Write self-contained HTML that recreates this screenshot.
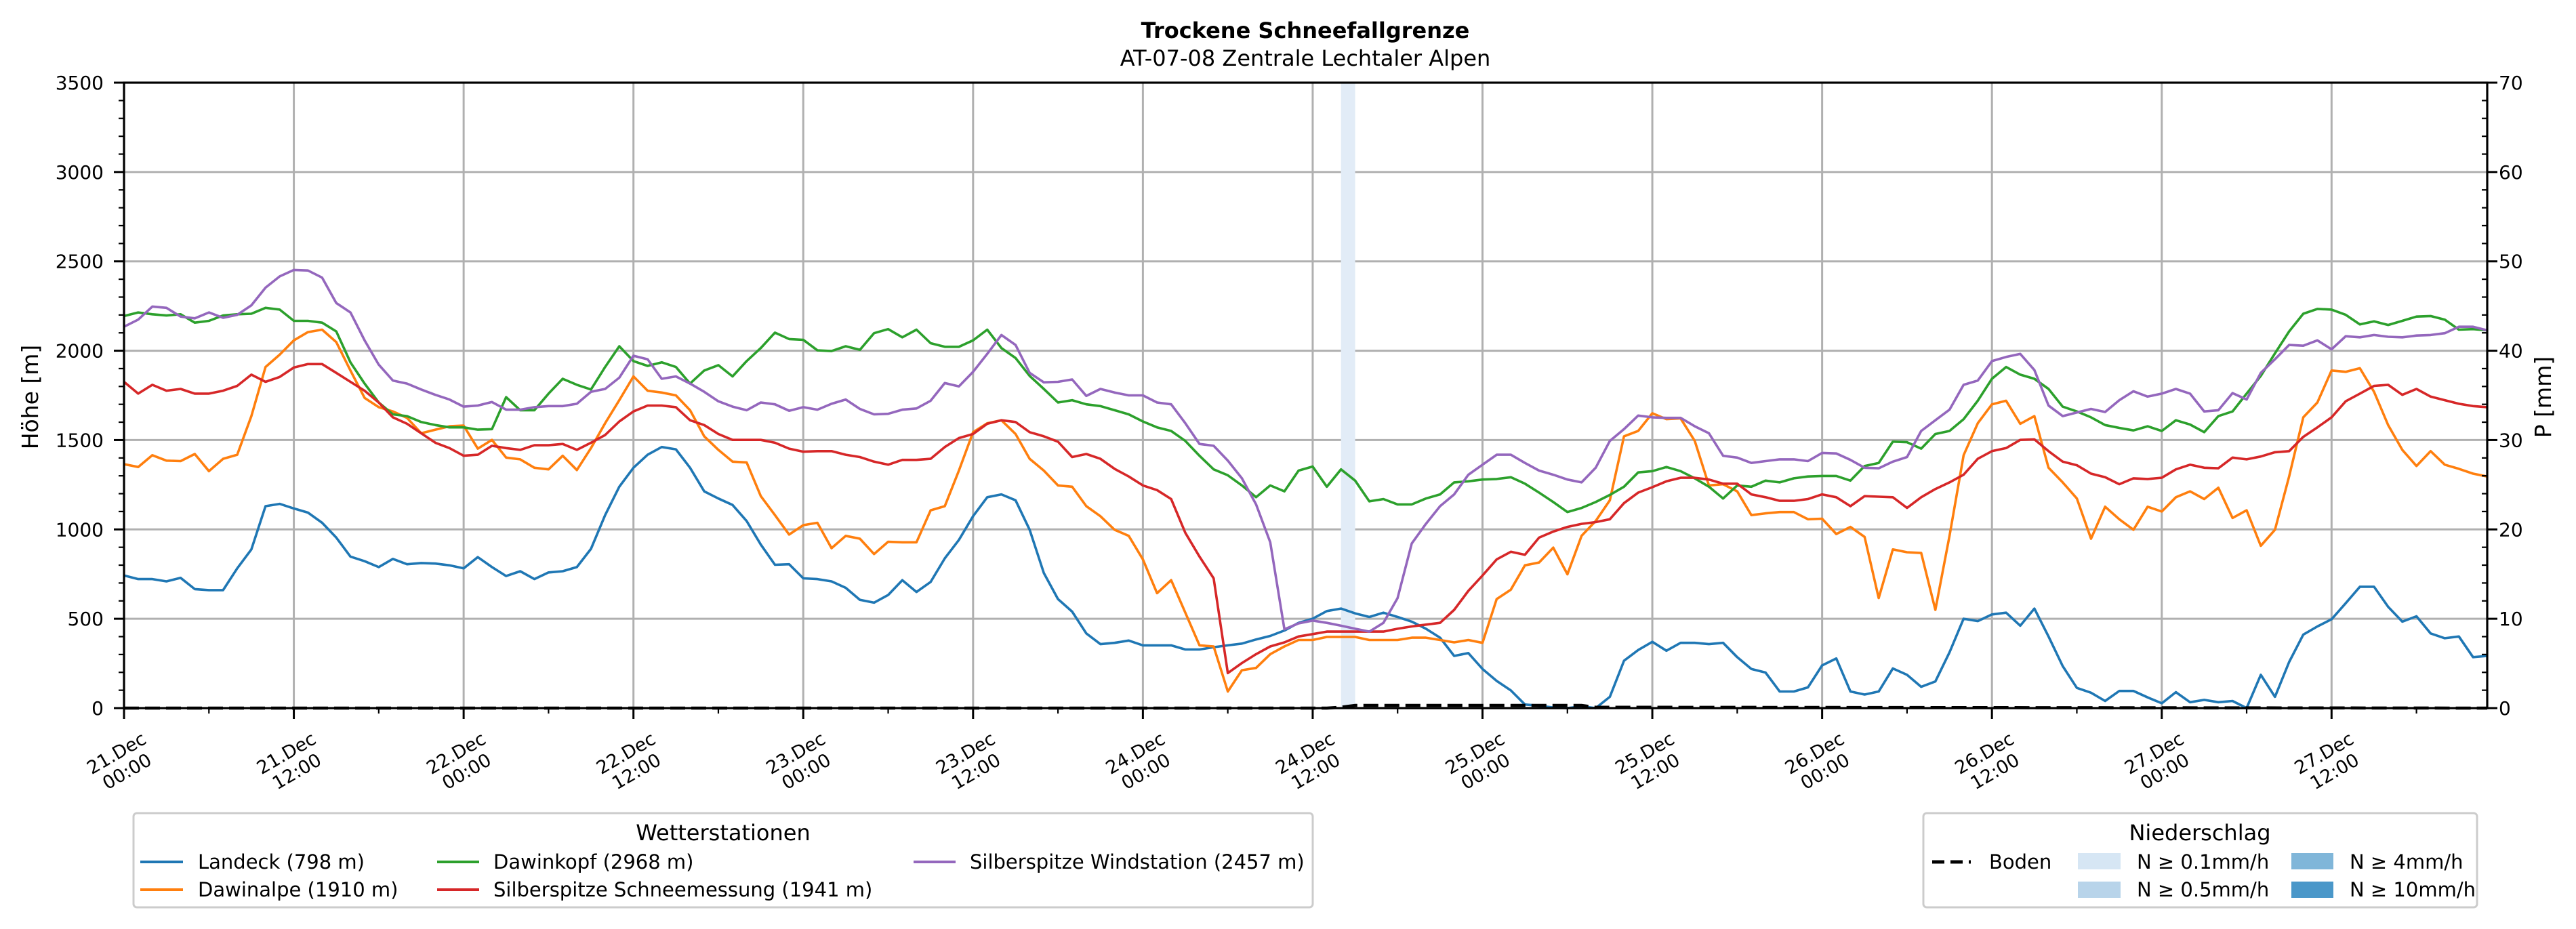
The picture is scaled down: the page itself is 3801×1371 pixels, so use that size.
<!DOCTYPE html>
<html><head><meta charset="utf-8"><style>
html,body{margin:0;padding:0;background:#fff;}
svg{display:block;font-family:"DejaVu Sans","Liberation Sans",sans-serif;}
</style></head><body>
<svg id="chart" xmlns="http://www.w3.org/2000/svg" width="3801" height="1371" viewBox="0 0 3801 1371">
<rect x="0" y="0" width="3801" height="1371" fill="#fff"/>
<text x="1926" y="56" font-size="32" font-weight="bold" text-anchor="middle">Trockene Schneefallgrenze</text>
<text x="1926" y="97" font-size="32" text-anchor="middle">AT-07-08 Zentrale Lechtaler Alpen</text>
<g id="grid"></g>
<g id="band"></g>
<g id="series"></g>
<g id="axes"></g>
<text transform="translate(56,586) rotate(-90)" font-size="33" text-anchor="middle">Höhe [m]</text>
<text transform="translate(3764,586) rotate(-90)" font-size="33" text-anchor="middle">P [mm]</text>

<g>
<rect x="197" y="1200" width="1740" height="139" rx="5" fill="#fff" stroke="#cccccc" stroke-width="3"/>
<text x="1067" y="1240" font-size="32" text-anchor="middle">Wetterstationen</text>
<g><line x1="207" y1="1272" x2="270" y2="1272" stroke="#1f77b4" stroke-width="4"/><text x="292" y="1282" font-size="29">Landeck (798 m)</text></g>
<g><line x1="207" y1="1313" x2="270" y2="1313" stroke="#ff7f0e" stroke-width="4"/><text x="292" y="1323" font-size="29">Dawinalpe (1910 m)</text></g>
<g><line x1="645" y1="1272" x2="707" y2="1272" stroke="#2ca02c" stroke-width="4"/><text x="728" y="1282" font-size="29">Dawinkopf (2968 m)</text></g>
<g><line x1="645" y1="1313" x2="707" y2="1313" stroke="#d62728" stroke-width="4"/><text x="728" y="1323" font-size="29">Silberspitze Schneemessung (1941 m)</text></g>
<g><line x1="1348" y1="1272" x2="1410" y2="1272" stroke="#9467bd" stroke-width="4"/><text x="1431" y="1282" font-size="29">Silberspitze Windstation (2457 m)</text></g>
</g>

<g>
<rect x="2838" y="1200" width="817" height="139" rx="5" fill="#fff" stroke="#cccccc" stroke-width="3"/>
<text x="3246" y="1240" font-size="32" text-anchor="middle">Niederschlag</text>
<g><line x1="2851" y1="1272" x2="2908" y2="1272" stroke="#000" stroke-width="5" stroke-dasharray="18,9"/><text x="2935" y="1282" font-size="29">Boden</text></g>
<g><rect x="3066" y="1259" width="63" height="24" fill="#d6e6f4"/><text x="3153" y="1282" font-size="29">N ≥ 0.1mm/h</text></g>
<g><rect x="3066" y="1301" width="63" height="24" fill="#b8d4ea"/><text x="3153" y="1323" font-size="29">N ≥ 0.5mm/h</text></g>
<g><rect x="3381" y="1259" width="62" height="24" fill="#80b6d9"/><text x="3467" y="1282" font-size="29">N ≥ 4mm/h</text></g>
<g><rect x="3381" y="1301" width="62" height="24" fill="#4a97c9"/><text x="3467" y="1323" font-size="29">N ≥ 10mm/h</text></g>
</g>
</svg>
<script>
const xTickLabels = [["21.Dec","00:00"],["21.Dec","12:00"],["22.Dec","00:00"],["22.Dec","12:00"],["23.Dec","00:00"],["23.Dec","12:00"],["24.Dec","00:00"],["24.Dec","12:00"],["25.Dec","00:00"],["25.Dec","12:00"],["26.Dec","00:00"],["26.Dec","12:00"],["27.Dec","00:00"],["27.Dec","12:00"]];
const yTicks = [0,500,1000,1500,2000,2500,3000,3500];
const y2Ticks = [0,10,20,30,40,50,60,70];
const seriesNames = ["landeck","dawinalpe","dawinkopf","silberspitze-schnee","silberspitze-wind"];
const seriesColors = ["#1f77b4","#ff7f0e","#2ca02c","#d62728","#9467bd"];
const landeck = [742,722,722,709,729,666,660,660,782,888,1130,1143,1117,1094,1037,954,848,822,789,835,805,812,809,799,782,845,789,739,766,722,759,766,789,891,1080,1239,1345,1418,1461,1448,1345,1213,1173,1137,1047,915,802,805,726,722,709,673,606,590,
633,716,650,706,838,941,1074,1180,1196,1163,998,756,610,540,418,358,365,378,351,351,351,328,328,341,351,361,384,404,434,477,500,543,557,530,510,534,510,484,444,394,292,308,219,152,99,20,13,3,0,10,0,63,265,325,371,321,365,365,358,365,
285,219,199,93,93,116,239,278,93,76,93,222,186,119,149,312,500,487,524,534,461,557,401,235,113,86,40,96,96,60,27,89,33,46,33,40,0,186,63,258,411,457,497,587,679,679,567,484,514,418,391,401,285,292];
const dawinalpe = [1365,1349,1415,1385,1382,1422,1326,1395,1418,1634,1909,1978,2058,2104,2118,2048,1889,1736,1684,1660,1624,1538,1558,1577,1581,1452,1501,1402,1392,1345,1336,1412,1332,1455,1594,1723,1856,1776,1766,1750,1667,1521,1445,1379,1375,1186,1080,971,1024,1037,895,964,948,862,
931,928,928,1107,1130,1329,1544,1594,1611,1534,1395,1329,1246,1239,1130,1074,998,964,832,643,716,534,351,345,93,212,225,302,345,381,381,398,398,398,381,381,381,394,394,381,368,381,365,610,663,799,815,898,749,964,1047,1163,1521,1551,1650,1617,1621,1495,1246,1253,
1213,1080,1090,1097,1097,1057,1060,974,1014,958,616,888,872,868,550,964,1415,1594,1700,1720,1591,1634,1345,1263,1173,948,1127,1057,998,1127,1100,1180,1213,1170,1233,1064,1107,908,998,1296,1627,1710,1889,1882,1902,1770,1584,1445,1355,1438,1362,1339,1312,1296];
const dawinkopf = [2194,2214,2204,2197,2204,2157,2167,2197,2204,2207,2240,2230,2167,2167,2157,2108,1935,1816,1710,1644,1634,1601,1584,1571,1571,1558,1561,1740,1667,1667,1760,1843,1809,1783,1909,2025,1942,1915,1935,1909,1816,1889,1919,1856,1942,2015,2101,2065,2061,2002,1998,2025,2005,2098,
2121,2075,2118,2042,2022,2022,2058,2118,2015,1959,1859,1786,1710,1723,1700,1690,1667,1644,1604,1571,1551,1495,1412,1336,1303,1246,1180,1246,1213,1329,1352,1239,1336,1273,1157,1170,1140,1140,1173,1196,1263,1269,1279,1282,1292,1256,1206,1153,1097,1120,1153,1193,1239,1319,1326,1349,1326,1286,1239,1173,
1246,1239,1273,1263,1286,1296,1299,1299,1273,1355,1372,1491,1488,1452,1534,1551,1617,1720,1843,1909,1866,1843,1786,1687,1660,1627,1584,1568,1554,1577,1551,1611,1587,1544,1634,1660,1760,1859,1985,2108,2207,2234,2230,2201,2147,2164,2144,2167,2191,2194,2174,2118,2121,2114];
const silberspitzeSchnee = [1826,1760,1809,1776,1786,1760,1760,1776,1803,1866,1826,1853,1906,1925,1925,1876,1826,1776,1710,1627,1591,1538,1485,1455,1412,1418,1468,1455,1445,1471,1471,1478,1445,1485,1528,1604,1660,1693,1693,1684,1611,1584,1534,1501,1501,1501,1485,1452,1435,1438,1438,1418,1405,1379,
1362,1389,1389,1395,1461,1511,1534,1591,1611,1601,1544,1521,1491,1405,1422,1395,1339,1296,1246,1220,1170,981,848,726,196,252,302,345,368,401,414,428,428,428,428,428,444,457,467,477,550,656,742,832,875,858,954,988,1014,1031,1041,1057,1147,1206,1236,1269,1289,1289,1279,1256,
1256,1196,1180,1160,1160,1170,1196,1180,1130,1186,1183,1180,1120,1180,1226,1263,1306,1395,1438,1455,1501,1504,1438,1379,1359,1312,1292,1253,1286,1282,1289,1336,1362,1345,1342,1402,1392,1408,1432,1438,1518,1571,1627,1717,1760,1803,1809,1753,1786,1743,1723,1703,1690,1684];
const silberspitzeWind = [2134,2174,2247,2240,2191,2181,2214,2184,2201,2254,2353,2416,2452,2449,2409,2267,2214,2058,1922,1833,1816,1783,1753,1727,1687,1693,1713,1670,1670,1684,1690,1690,1703,1770,1786,1849,1972,1952,1843,1856,1816,1770,1717,1687,1667,1710,1700,1664,1684,1670,1703,1727,1674,1644,
1647,1670,1677,1720,1819,1800,1882,1982,2088,2032,1876,1823,1826,1839,1747,1786,1766,1750,1750,1710,1700,1594,1478,1468,1385,1286,1140,928,441,474,490,477,461,444,428,477,616,921,1031,1130,1196,1306,1362,1418,1418,1372,1329,1306,1279,1263,1345,1495,1561,1637,1627,1624,1624,1577,1538,1412,
1402,1372,1382,1392,1392,1382,1428,1425,1389,1345,1342,1379,1405,1551,1611,1670,1809,1833,1942,1965,1982,1892,1693,1634,1654,1674,1657,1723,1773,1743,1760,1786,1760,1660,1667,1763,1727,1876,1952,2032,2028,2058,2008,2081,2075,2088,2078,2075,2085,2088,2098,2134,2134,2114];
const bodenHours = [0,85,86,87,103,104,167];
const bodenValues = [0,0,0.1,0.3,0.3,0.1,0];
const precipStartHours = [86];
const precipEndHours = [87];
const precipClass = [0];

const NS="http://www.w3.org/2000/svg";
const L=183,R=3670,T=122,B=1045,HMAX=167;
const xs=h=>L+h*(R-L)/HMAX;
const ys=v=>B-v/3500*(B-T);
const yp=p=>B-p/70*(B-T);
function mk(tag,attrs,parent){const e=document.createElementNS(NS,tag);for(const k in attrs)e.setAttribute(k,attrs[k]);parent.appendChild(e);return e;}
const grid=document.getElementById('grid'),axes=document.getElementById('axes'),band=document.getElementById('band'),ser=document.getElementById('series');
const classColors=["#e2ecf7","#b8d4ea","#80b6d9","#4a97c9"];
yTicks.forEach(v=>{const g=mk('line',{x1:L,x2:R,y1:ys(v),y2:ys(v),stroke:'#b0b0b0','stroke-width':3},grid);

});
xTickLabels.forEach((lab,i)=>{const g=mk('line',{x1:xs(i*12),x2:xs(i*12),y1:T,y2:B,stroke:'#b0b0b0','stroke-width':3},grid);

});
precipStartHours.forEach((s,i)=>{const r=mk('rect',{x:xs(s),y:T,width:xs(precipEndHours[i])-xs(s),height:B-T,fill:classColors[precipClass[i]]},band);

});
[landeck,dawinalpe,dawinkopf,silberspitzeSchnee,silberspitzeWind].forEach((arr,si)=>{
const pts=arr.map((v,h)=>xs(h).toFixed(1)+','+ys(v).toFixed(1)).join(' ');
const p=mk('polyline',{points:pts,fill:'none',stroke:seriesColors[si],'stroke-width':3.6,'stroke-linejoin':'round'},ser);

});
const bp=bodenHours.map((h,i)=>xs(h).toFixed(1)+','+yp(bodenValues[i]).toFixed(1)).join(' ');
const bl=mk('polyline',{points:bp,fill:'none',stroke:'#000','stroke-width':4.5,'stroke-dasharray':'22,9'},ser);


const sp=mk('rect',{x:L,y:T,width:R-L,height:B-T,fill:'none',stroke:'#000','stroke-width':3.2},axes);


for(let v=0;v<=3500;v+=100){const maj=v%500===0;
const t=mk('line',{x1:L-(maj?15:8),x2:L,y1:ys(v),y2:ys(v),stroke:'#000','stroke-width':maj?3:2.2},axes);


const t2=maj?mk('line',{x1:R,x2:R+15,y1:ys(v),y2:ys(v),stroke:'#000','stroke-width':3},axes):mk('line',{x1:R-8,x2:R,y1:ys(v),y2:ys(v),stroke:'#000','stroke-width':2.2},axes);

}
yTicks.forEach(v=>{const tx=mk('text',{x:153,y:ys(v)+10,'font-size':28,'text-anchor':'end'},axes);tx.textContent=v;

});
y2Ticks.forEach(v=>{const tx=mk('text',{x:3687,y:yp(v)+10,'font-size':28},axes);tx.textContent=v;

});
for(let h=0;h<=HMAX;h+=6){const maj=h%12===0;
const t=mk('line',{x1:xs(h),x2:xs(h),y1:B,y2:B+(maj?16:8),stroke:'#000','stroke-width':maj?3:2.2},axes);

}
xTickLabels.forEach((lab,i)=>{const cx=xs(i*12)-4,cy=1124;
const tx=mk('text',{transform:`translate(${cx},${cy}) rotate(-30)`,'font-size':27,'text-anchor':'middle'},axes);
const a=mk('tspan',{x:0,y:-5},tx);a.textContent=lab[0];
const b=mk('tspan',{x:0,y:26},tx);b.textContent=lab[1];

});
</script>
</body></html>
